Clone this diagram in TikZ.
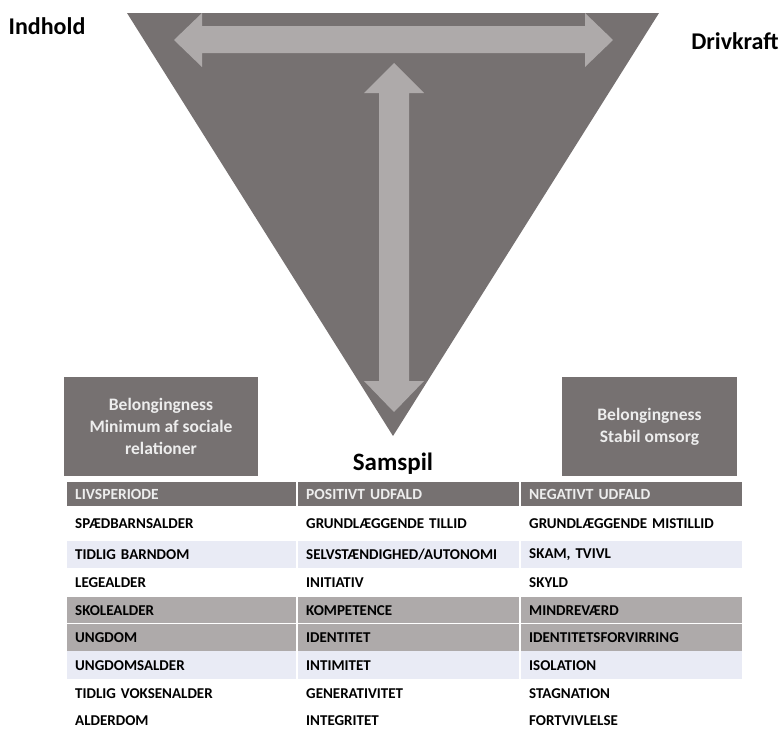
\documentclass[tikz,border=0pt]{standalone}
\usepackage{fontspec}
\setmainfont{Carlito}
\definecolor{tridark}{HTML}{767171}
\definecolor{arrowlight}{HTML}{AEAAAA}
\definecolor{rowblue}{HTML}{E9EBF5}
\definecolor{rowgray}{HTML}{AEAAAA}
\definecolor{boxtext}{HTML}{EDEDED}

\begin{document}
\begin{tikzpicture}[
    x=1pt, y=-1pt,
    lbl/.style={font=\fontsize{24}{28}\selectfont\bfseries,
                text=black, inner sep=0pt, anchor=base},
    infobox/.style={fill=tridark, text=boxtext, align=center,
                    minimum height=99pt, inner sep=0pt,
                    font=\fontsize{17.5}{22}\selectfont\bfseries},
    cell/.style={anchor=north west, inner xsep=8pt, inner ysep=0pt,
                 align=left, text=black,
                 font=\fontsize{15}{17}\selectfont\bfseries},
    wide/.style={text width=213pt},
    narrow/.style={text width=205pt},
    hcell/.style={cell, fill=tridark, text=boxtext, minimum height=24pt,
                  font=\fontsize{15.5}{17}\selectfont\bfseries},
    wcell/.style={cell, fill=white},
    bcell/.style={cell, fill=rowblue},
    gcell/.style={cell, fill=rowgray},
]
\useasboundingbox (0,0) rectangle (782,731);
\clip (0,0) rectangle (782,731);

% --- Triangle with arrows ---
\fill[tridark] (127,13) -- (659,13) -- (393,436) -- cycle;
\fill[arrowlight] (174,40) -- (202,13) -- (202,26) -- (585,26)
    -- (585,13) -- (613,40) -- (585,67) -- (585,53) -- (202,53)
    -- (202,67) -- cycle;
\fill[arrowlight] (394,63) -- (424,93) -- (409,93) -- (409,381)
    -- (424,381) -- (394,412) -- (364,381) -- (379,381) -- (379,93)
    -- (364,93) -- cycle;

% --- Labels ---
\node[lbl] (indhold)   at (47,34)  {Indhold};
\node[lbl] (drivkraft) at (735,49) {Drivkraft};
\node[lbl, font=\fontsize{25}{29}\selectfont\bfseries]
    (samspil) at (393,470) {Samspil};

% --- Side boxes ---
\node[infobox, minimum width=194pt] (boxL) at (161,426.5)
    {Belongingness\\Minimum af sociale\\relationer};
\node[infobox, minimum width=175pt] (boxR) at (649.5,426.5)
    {Belongingness\\Stabil omsorg};

% --- Table: header ---
\node[hcell, wide]   (hLiv) at (67,482)  {LIVSPERIODE};
\node[hcell, narrow] (hPos) at (298,482) {POSITIVT UDFALD};
\node[hcell, narrow] (hNeg) at (521,482) {NEGATIVT UDFALD};

% --- Table: rows ---
\node[wcell, wide,   minimum height=33pt] (r1a) at (67,507)  {SPÆDBARNSALDER};
\node[wcell, narrow, minimum height=33pt] (r1b) at (298,507) {GRUNDLÆGGENDE TILLID};
\node[wcell, narrow, minimum height=33pt] (r1c) at (521,507) {GRUNDLÆGGENDE MISTILLID};

\node[bcell, wide,   minimum height=27pt] (r2a) at (67,541)  {TIDLIG BARNDOM};
\node[bcell, narrow, minimum height=27pt] (r2b) at (298,541) {SELVSTÆNDIGHED/AUTONOMI};
\node[bcell, narrow, minimum height=27pt] (r2c) at (521,541) {SKAM, TVIVL};

\node[wcell, wide,   minimum height=27pt] (r3a) at (67,569)  {LEGEALDER};
\node[wcell, narrow, minimum height=27pt] (r3b) at (298,569) {INITIATIV};
\node[wcell, narrow, minimum height=27pt] (r3c) at (521,569) {SKYLD};

\node[gcell, wide,   minimum height=26pt] (r4a) at (67,597)  {SKOLEALDER};
\node[gcell, narrow, minimum height=26pt] (r4b) at (298,597) {KOMPETENCE};
\node[gcell, narrow, minimum height=26pt] (r4c) at (521,597) {MINDREVÆRD};

\node[gcell, wide,   minimum height=27pt] (r5a) at (67,624)  {UNGDOM};
\node[gcell, narrow, minimum height=27pt] (r5b) at (298,624) {IDENTITET};
\node[gcell, narrow, minimum height=27pt] (r5c) at (521,624) {IDENTITETSFORVIRRING};

\node[bcell, wide,   minimum height=28pt] (r6a) at (67,651)  {UNGDOMSALDER};
\node[bcell, narrow, minimum height=28pt] (r6b) at (298,651) {INTIMITET};
\node[bcell, narrow, minimum height=28pt] (r6c) at (521,651) {ISOLATION};

\node[wcell, wide,   minimum height=26pt] (r7a) at (67,680)  {TIDLIG VOKSENALDER};
\node[wcell, narrow, minimum height=26pt] (r7b) at (298,680) {GENERATIVITET};
\node[wcell, narrow, minimum height=26pt] (r7c) at (521,680) {STAGNATION};

\node[wcell, wide,   minimum height=26pt] (r8a) at (67,707)  {ALDERDOM};
\node[wcell, narrow, minimum height=26pt] (r8b) at (298,707) {INTEGRITET};
\node[wcell, narrow, minimum height=26pt] (r8c) at (521,707) {FORTVIVLELSE};

\end{tikzpicture}
\end{document}
